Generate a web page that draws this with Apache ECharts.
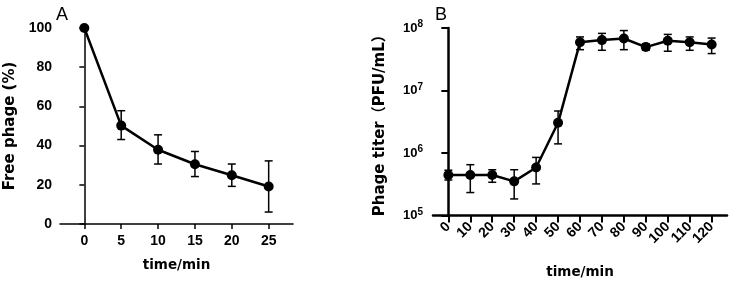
<!DOCTYPE html>
<html>
<head>
<meta charset="utf-8">
<script src="https://cdn.jsdelivr.net/npm/echarts@6/dist/echarts.min.js"></script>
<style>
  html, body { margin: 0; padding: 0; background: #fff; }
  #chart { width: 733px; height: 284px; }
</style>
</head>
<body>
<div id="chart"></div>
<script>
// panel A: free phage (%) vs time
let timeA = [0, 5, 10, 15, 20, 25];
let freeMean = [100, 50.2, 37.9, 30.5, 24.9, 19.1];
let freeLow = [100, 43.1, 30.6, 24.2, 19.2, 6.1];
let freeHigh = [100, 57.8, 45.5, 37.0, 30.6, 32.2];

// panel B: phage titer (PFU/mL) vs time
let timeB = [0, 10, 20, 30, 40, 50, 60, 70, 80, 90, 100, 110, 120];
let titerMean = [4.46e5, 4.45e5, 4.45e5, 3.52e5, 5.85e5, 3.04e6, 5.9e7, 6.4e7, 6.8e7, 4.95e7, 6.25e7, 5.9e7, 5.43e7];
let titerLow = [3.7e5, 2.33e5, 3.4e5, 1.84e5, 3.2e5, 1.4e6, 4.5e7, 4.4e7, 4.5e7, 4.4e7, 4.25e7, 4.4e7, 3.9e7];
let titerHigh = [5.3e5, 6.5e5, 5.4e5, 5.4e5, 8.5e5, 4.7e6, 7.2e7, 8.2e7, 9.1e7, 5.6e7, 7.9e7, 7.2e7, 6.9e7];

let FONT = '"Liberation Sans", Arial, sans-serif';
let WIDE = '"DejaVu Sans", "Noto Sans CJK SC", sans-serif';
let chart = echarts.init(document.getElementById('chart'));

function pairs(xs, ys) {
  return xs.map(function (x, i) { return [x, ys[i]]; });
}

function errorSeries(idx, xs, lows, highs, capW, lw) {
  return {
    type: 'custom',
    xAxisIndex: idx,
    yAxisIndex: idx,
    silent: true,
    z: 3,
    data: xs.map(function (x, i) { return [x, lows[i], highs[i]]; }),
    renderItem: function (params, api) {
      let lo = api.coord([api.value(0), api.value(1)]);
      let hi = api.coord([api.value(0), api.value(2)]);
      let st = { stroke: '#000', lineWidth: lw };
      return {
        type: 'group',
        children: [
          { type: 'line', shape: { x1: hi[0], y1: hi[1], x2: lo[0], y2: lo[1] }, style: st },
          { type: 'line', shape: { x1: hi[0] - capW, y1: hi[1], x2: hi[0] + capW, y2: hi[1] }, style: st },
          { type: 'line', shape: { x1: lo[0] - capW, y1: lo[1], x2: lo[0] + capW, y2: lo[1] }, style: st }
        ]
      };
    }
  };
}

let nameStyle = { fontFamily: WIDE, fontSize: 15, fontWeight: 'bold', color: '#000' };
let xNameStyle = { fontFamily: WIDE, fontSize: 13.5, fontWeight: 'bold', color: '#000' };

let option = {
  animation: false,
  backgroundColor: '#fff',
  title: [
    { text: 'A', left: 51, top: 1, textStyle: { fontFamily: FONT, fontSize: 18, fontWeight: 'normal', color: '#000' } },
    { text: 'B', left: 430, top: 1, textStyle: { fontFamily: FONT, fontSize: 18, fontWeight: 'normal', color: '#000' } }
  ],
  grid: [
    { left: 60, top: 28, width: 233, height: 196 },
    { left: 433, top: 28, width: 294, height: 196 }
  ],
  xAxis: [
    {
      gridIndex: 0, type: 'value', min: -3.3, max: 28.3,
      name: 'time/min', nameLocation: 'middle', nameGap: 35,
      nameTextStyle: xNameStyle,
      axisLine: { lineStyle: { color: '#000', width: 1.5 } },
      axisTick: { length: 5, lineStyle: { color: '#000', width: 1.5 }, customValues: timeA },
      axisLabel: { customValues: timeA, margin: 10, fontFamily: FONT, fontSize: 14, fontWeight: 'bold', color: '#000' },
      splitLine: { show: false }
    },
    {
      gridIndex: 1, type: 'value', min: -7, max: 127,
      name: 'time/min', nameLocation: 'middle', nameGap: 50,
      nameTextStyle: xNameStyle,
      axisLine: { lineStyle: { color: '#000', width: 2.5 } },
      axisTick: { length: 7, lineStyle: { color: '#000', width: 2 }, customValues: timeB },
      axisLabel: { customValues: timeB, rotate: 45, margin: 9, fontFamily: FONT, fontSize: 14, fontWeight: 'bold', color: '#000' },
      splitLine: { show: false }
    }
  ],
  yAxis: [
    {
      gridIndex: 0, type: 'value', min: 0, max: 100, interval: 20,
      name: 'Free phage (%)', nameLocation: 'middle', nameGap: 42,
      nameTextStyle: nameStyle,
      axisLine: { show: true, lineStyle: { color: '#000', width: 1.5 } },
      axisTick: { show: true, length: 5, lineStyle: { color: '#000', width: 1.5 } },
      axisLabel: { margin: 8, fontFamily: FONT, fontSize: 14, fontWeight: 'bold', color: '#000' },
      splitLine: { show: false }
    },
    {
      gridIndex: 1, type: 'log', logBase: 10, min: 1e5, max: 1e8,
      name: 'Phage titer（PFU/mL）', nameLocation: 'middle', nameGap: 45,
      nameTextStyle: nameStyle,
      axisLine: { show: true, lineStyle: { color: '#000', width: 2.5 } },
      axisTick: { show: true, length: 7, lineStyle: { color: '#000', width: 2 } },
      minorTick: { show: false },
      axisLabel: {
        margin: 10,
        formatter: function (v) {
          let e = Math.round(Math.log10(v));
          return '{b|10}{s|' + e + '}';
        },
        rich: {
          b: { fontFamily: FONT, fontSize: 13, fontWeight: 'bold', color: '#000' },
          s: { fontFamily: FONT, fontSize: 10, fontWeight: 'bold', color: '#000', verticalAlign: 'bottom', padding: [0, 0, 7, 0] }
        }
      },
      splitLine: { show: false }
    }
  ],
  series: [
    errorSeries(0, timeA.slice(1), freeLow.slice(1), freeHigh.slice(1), 4, 1.5),
    {
      type: 'line', xAxisIndex: 0, yAxisIndex: 0, z: 4,
      data: pairs(timeA, freeMean),
      symbol: 'circle', symbolSize: 10,
      itemStyle: { color: '#000' },
      lineStyle: { color: '#000', width: 2.5 }
    },
    errorSeries(1, timeB, titerLow, titerHigh, 4, 1.5),
    {
      type: 'line', xAxisIndex: 1, yAxisIndex: 1, z: 4,
      data: pairs(timeB, titerMean),
      symbol: 'circle', symbolSize: 10,
      itemStyle: { color: '#000' },
      lineStyle: { color: '#000', width: 2.5 }
    }
  ]
};

chart.setOption(option);
</script>
</body>
</html>
